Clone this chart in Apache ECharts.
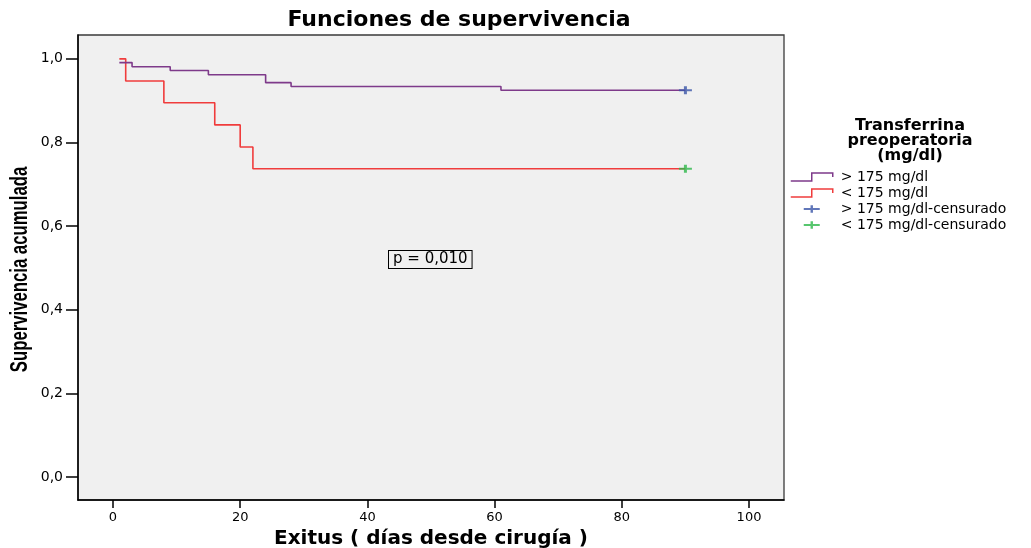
<!DOCTYPE html>
<html><head><meta charset="utf-8">
<script src="https://cdn.jsdelivr.net/npm/echarts@6/dist/echarts.min.js"></script>
<style>html,body{margin:0;padding:0;background:#fff}#c{width:1031px;height:548px}</style>
</head><body><div id="c"></div>
<script>
// ---- data ----
const seriesNames = ['> 175 mg/dl', '< 175 mg/dl', '> 175 mg/dl-censurado', '< 175 mg/dl-censurado'];
const highTimes = [1, 3, 9, 15, 24, 28, 61, 90];
const highSurv = [0.991, 0.981, 0.972, 0.962, 0.943, 0.934, 0.925, 0.925];
const lowTimes = [1, 2, 8, 16, 20, 22, 90];
const lowSurv = [1.0, 0.947, 0.895, 0.842, 0.789, 0.737, 0.737];
const highCensorTimes = [90];
const highCensorSurv = [0.925];
const lowCensorTimes = [90];
const lowCensorSurv = [0.737];
const xTicks = [0, 20, 40, 60, 80, 100];
const yTicks = [0, 0.2, 0.4, 0.6, 0.8, 1.0];
const titleText = 'Funciones de supervivencia';
const xName = 'Exitus ( días desde cirugía )';
const yName = 'Supervivencia acumulada';
const legendTitle = 'Transferrina\npreoperatoria\n(mg/dl)';
const pValueText = 'p = 0,010';

// ---- styles ----
const PURPLE = '#7e3a8a', RED = '#f03c3c', BLUE = '#3a55a8', GREEN = '#2db84a';
const zip = (a, b) => a.map((v, i) => [v, b[i]]);
const stepIcon = 'path://M0,8 H21 V0 H42 V4';
const plusLegendIcon = 'path://M0,0 L0,0.01 L0.01,0 Z M42,8 L42,7.99 L41.99,8 Z M13,3.1 H19.8 V0.2 H22.2 V3.1 H29 V4.9 H22.2 V7.8 H19.8 V4.9 H13 Z';
const plusSymbol = 'path://M5,0 H8 V3 H13 V5 H8 V8 H5 V5 H0 V3 H5 Z';
const fmt = v => v.toFixed(1).replace('.', ',');

const chart = echarts.init(document.getElementById('c'), null, {renderer: 'canvas'});
chart.setOption({
  backgroundColor: '#ffffff',
  animation: false,
  title: [
    {text: titleText, left: 459, top: 9, padding: 0, textAlign: 'center',
     textStyle: {fontFamily: 'DejaVu Sans', fontWeight: 'bold', fontSize: 22, color: '#000'}},
    {text: legendTitle, left: 910, top: 118, padding: 0, textAlign: 'center',
     textStyle: {fontFamily: 'DejaVu Sans', fontWeight: 'bold', fontSize: 16, lineHeight: 15, color: '#000'}}
  ],
  grid: {left: 78, right: 247, top: 35, bottom: 48, show: true, backgroundColor: '#f0f0f0',
         borderColor: '#3a3a3a', borderWidth: 1.3, containLabel: false, outerBoundsMode: 'none'},
  legend: {
    orient: 'vertical', left: 790, top: 170, padding: 0,
    itemWidth: 42, itemHeight: 8, itemGap: 2, symbolKeepAspect: false,
    textStyle: {fontFamily: 'DejaVu Sans', fontSize: 14, lineHeight: 14, color: '#000', padding: [0, 0, 0, 3]},
    data: [
      {name: seriesNames[0], icon: stepIcon, itemStyle: {color: 'transparent', borderColor: PURPLE, borderWidth: 1.5}},
      {name: seriesNames[1], icon: stepIcon, itemStyle: {color: 'transparent', borderColor: RED, borderWidth: 1.5}},
      {name: seriesNames[2], icon: plusLegendIcon, itemStyle: {color: BLUE, borderWidth: 0}},
      {name: seriesNames[3], icon: plusLegendIcon, itemStyle: {color: GREEN, borderWidth: 0}}
    ]
  },
  xAxis: {
    type: 'value', min: -5.5, max: 105.5,
    name: xName, nameLocation: 'middle', nameGap: 26,
    nameTextStyle: {fontFamily: 'DejaVu Sans', fontWeight: 'bold', fontSize: 20, color: '#000'},
    axisLine: {show: true, onZero: false, lineStyle: {color: '#000', width: 1.5}},
    axisTick: {show: true, inside: false, length: 8, customValues: xTicks, lineStyle: {color: '#000', width: 1.5}},
    axisLabel: {customValues: xTicks, margin: 11, fontFamily: 'DejaVu Sans', fontSize: 13, color: '#000'},
    splitLine: {show: false}
  },
  yAxis: {
    type: 'value', min: -0.055, max: 1.057,
    axisLine: {show: true, onZero: false, lineStyle: {color: '#000', width: 1.5}},
    axisTick: {show: true, inside: false, length: 12, customValues: yTicks, lineStyle: {color: '#000', width: 1.5}},
    axisLabel: {customValues: yTicks, margin: 15, formatter: fmt, fontFamily: 'DejaVu Sans', fontSize: 14, color: '#000'},
    splitLine: {show: false}
  },
  graphic: [
    {type: 'text', x: 21, y: 269.5, rotation: Math.PI / 2, scaleX: 0.727, z: 100,
     style: {text: yName, font: 'bold 23px "Liberation Sans", Arial, sans-serif', fill: '#000',
             align: 'center', verticalAlign: 'middle'}},
    {type: 'text', left: 388, top: 250, z: 100,
     style: {text: pValueText, font: '15px "DejaVu Sans"', fill: '#000',
             borderColor: '#000', borderWidth: 1, padding: [1, 4, 1, 4], backgroundColor: '#f0f0f0'}}
  ],
  series: [
    {name: seriesNames[0], type: 'line', step: 'end', symbol: 'none', data: zip(highTimes, highSurv),
     color: PURPLE, lineStyle: {color: PURPLE, width: 1.6}, z: 3},
    {name: seriesNames[1], type: 'line', step: 'end', symbol: 'none', data: zip(lowTimes, lowSurv),
     color: RED, lineStyle: {color: RED, width: 1.6}, z: 2},
    {name: seriesNames[2], type: 'scatter', symbol: plusSymbol, symbolSize: [13, 8], data: zip(highCensorTimes, highCensorSurv),
     itemStyle: {color: BLUE}, z: 5},
    {name: seriesNames[3], type: 'scatter', symbol: plusSymbol, symbolSize: [13, 8], data: zip(lowCensorTimes, lowCensorSurv),
     itemStyle: {color: GREEN}, z: 5}
  ]
});
</script>
</body></html>
